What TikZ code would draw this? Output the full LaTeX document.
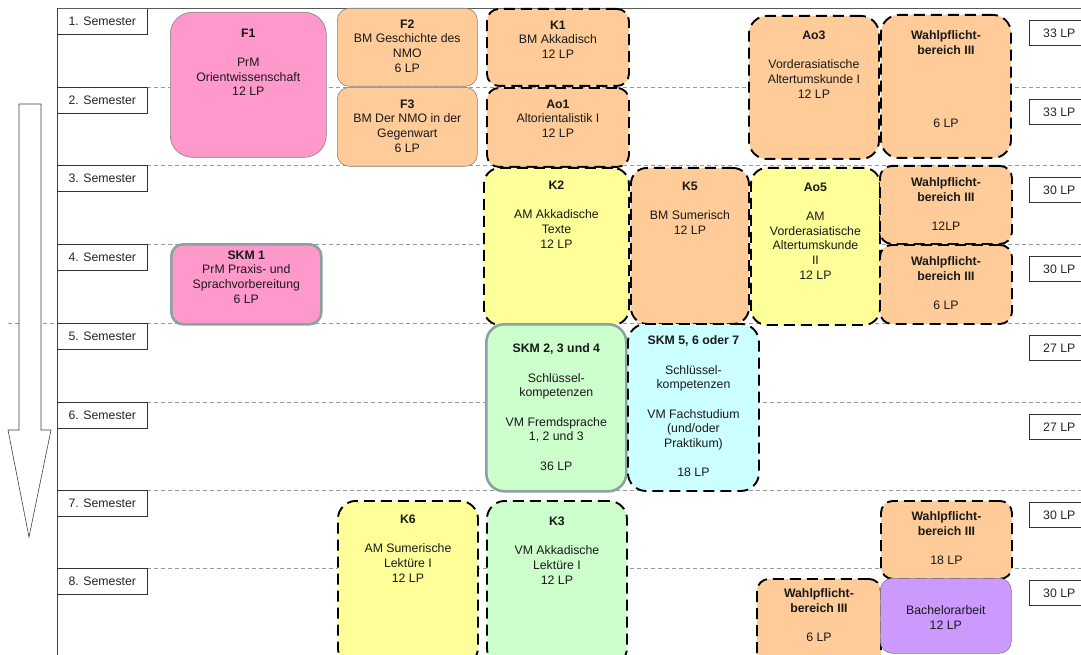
\documentclass[tikz,border=0pt]{standalone}
\usepackage{fontspec}
\setmainfont{Liberation Sans}
\usetikzlibrary{positioning}
\definecolor{pinkmod}{RGB}{255,153,204}
\definecolor{orangemod}{RGB}{255,204,153}
\definecolor{yellowmod}{RGB}{255,255,153}
\definecolor{greenmod}{RGB}{204,255,204}
\definecolor{cyanmod}{RGB}{204,255,255}
\definecolor{purplemod}{RGB}{204,153,255}
\definecolor{skmrand}{RGB}{138,162,162}
\tikzset{
  modul/.style={draw=gray,line width=0.6pt,rounded corners=12pt,anchor=north west,inner sep=0pt},
  wpf/.style={modul,draw=black,line width=1.9pt,dash pattern=on 11pt off 6pt},
  skm/.style={modul,draw=skmrand,line width=2.6pt},
  txt/.style={inner sep=0pt,align=center,text=black!90},
  sem/.style={draw=black!80,fill=white,line width=0.6pt,minimum width=90pt,minimum height=26pt,anchor=north west,inner sep=0pt,text=black!85},
  lpbox/.style={sem,minimum width=60pt,minimum height=25pt},
  rowline/.style={gray!80,line width=0.6pt,dash pattern=on 4pt off 3pt}
}
\begin{document}
\begin{tikzpicture}[x=1pt,y=-1pt,font=\fontsize{12.3}{14.7}\selectfont]
\useasboundingbox (0,0) rectangle (1081,655);
\clip (0,0) rectangle (1081,655);
% Semesterraster
\foreach \r/\yy/\lp in {1/8/33,2/87/33,3/165/30,4/244/30,5/323/27,6/402/27,7/490/30,8/568/30}{
  \draw[rowline] (147,\yy) -- (1081,\yy);
  \node[sem] (sem\r) at (57,\yy) {\r. Semester};
  \node[lpbox] (lp\r) at (1029,\yy+12) {\lp\ LP};
}
\draw[rowline] (8,323) -- (sem5.north west);
\draw[gray!70!black,line width=0.7pt] (sem1.north west) -- (1081,8);
\draw[black!75,line width=0.7pt] (sem1.north west) -- (57,655);
% Pfeil
\draw[black!75,line width=0.6pt,fill=white] (19,104) -- (41,104) -- (41,430) -- (51,430) -- (29,537) -- (8,430) -- (19,430) -- cycle;
% Module
\node[modul,fill=pinkmod,rounded corners=22pt,minimum width=156pt,minimum height=145pt] (f1) at (170,12) {};
\node[txt,below=16.5pt of f1.north] (f1txt) {\textbf{F1}\\[14.7pt]PrM\\Orientwissenschaft\\12 LP};
\node[modul,fill=orangemod,minimum width=140pt,minimum height=78pt] (f2) at (337,8) {};
\node[txt,below=11.5pt of f2.north] (f2txt) {\textbf{F2}\\BM Geschichte des\\NMO\\6 LP};
\node[modul,fill=orangemod,minimum width=140pt,minimum height=79pt] (f3) at (337,87) {};
\node[txt,below=12.5pt of f3.north] (f3txt) {\textbf{F3}\\BM Der NMO in der\\Gegenwart\\6 LP};
\node[wpf,fill=orangemod,minimum width=142pt,minimum height=77pt] (k1) at (486,8) {};
\node[txt,below=12.5pt of k1.north] (k1txt) {\textbf{K1}\\BM Akkadisch\\12 LP};
\node[wpf,fill=orangemod,minimum width=142pt,minimum height=79pt] (ao1) at (486,87) {};
\node[txt,below=12.5pt of ao1.north] (ao1txt) {\textbf{Ao1}\\Altorientalistik I\\12 LP};
\node[wpf,fill=orangemod,rounded corners=18pt,minimum width=130pt,minimum height=143pt] (ao3) at (748,15) {};
\node[txt,below=15.5pt of ao3.north] (ao3txt) {\textbf{Ao3}\\[14.7pt]Vorderasiatische\\Altertumskunde I\\12 LP};
\node[wpf,fill=orangemod,rounded corners=18pt,minimum width=130pt,minimum height=143pt] (wpf1) at (880,14) {};
\node[txt,below=16.5pt of wpf1.north] (wpf1txt) {\textbf{Wahlpflicht-}\\\textbf{bereich III}\\[58.8pt]6 LP};
\node[wpf,fill=yellowmod,rounded corners=16pt,minimum width=145pt,minimum height=157pt] (k2) at (483,167) {};
\node[txt,below=13.5pt of k2.north] (k2txt) {\textbf{K2}\\[14.7pt]AM Akkadische\\Texte\\12 LP};
\node[wpf,fill=orangemod,rounded corners=16pt,minimum width=118pt,minimum height=156pt] (k5) at (630,167) {};
\node[txt,below=14.5pt of k5.north] (k5txt) {\textbf{K5}\\[14.7pt]BM Sumerisch\\12 LP};
\node[wpf,fill=yellowmod,rounded corners=16pt,minimum width=129pt,minimum height=157pt] (ao5) at (750,167) {};
\node[txt,below=15.5pt of ao5.north] (ao5txt) {\textbf{Ao5}\\[14.7pt]AM\\Vorderasiatische\\Altertumskunde\\II\\12 LP};
\node[wpf,fill=orangemod,minimum width=132pt,minimum height=78pt] (wpf2) at (879,165) {};
\node[txt,below=12.5pt of wpf2.north] (wpf2txt) {\textbf{Wahlpflicht-}\\\textbf{bereich III}\\[14.7pt]12LP};
\node[wpf,fill=orangemod,minimum width=132pt,minimum height=79pt] (wpf3) at (879,244) {};
\node[txt,below=12.5pt of wpf3.north] (wpf3txt) {\textbf{Wahlpflicht-}\\\textbf{bereich III}\\[14.7pt]6 LP};
\node[skm,fill=pinkmod,minimum width=150pt,minimum height=80pt] (skm1) at (170,243) {};
\node[txt,below=7.5pt of skm1.north] (skm1txt) {\textbf{SKM 1}\\PrM Praxis- und\\Sprachvorbereitung\\6 LP};
\node[skm,fill=greenmod,rounded corners=18pt,minimum width=140pt,minimum height=167pt] (skm2) at (485,323) {};
\node[txt,below=20.5pt of skm2.north] (skm2txt) {\textbf{SKM 2, 3 und 4}\\[14.7pt]Schlüssel-\\kompetenzen\\[14.7pt]VM Fremdsprache\\1, 2 und 3\\[14.7pt]36 LP};
\node[wpf,fill=cyanmod,rounded corners=18pt,minimum width=131pt,minimum height=167pt] (skm5) at (627,323) {};
\node[txt,below=12.5pt of skm5.north] (skm5txt) {\textbf{SKM 5, 6 oder 7}\\[14.7pt]Schlüssel-\\kompetenzen\\[14.7pt]VM Fachstudium\\(und/oder\\Praktikum)\\[14.7pt]18 LP};
\node[wpf,fill=yellowmod,rounded corners=18pt,minimum width=140pt,minimum height=165pt] (k6) at (337,500) {};
\node[txt,below=14.5pt of k6.north] (k6txt) {\textbf{K6}\\[14.7pt]AM Sumerische\\Lektüre I\\12 LP};
\node[wpf,fill=greenmod,rounded corners=18pt,minimum width=140pt,minimum height=165pt] (k3) at (486,500) {};
\node[txt,below=16.5pt of k3.north] (k3txt) {\textbf{K3}\\[14.7pt]VM Akkadische\\Lektüre I\\12 LP};
\node[wpf,fill=orangemod,minimum width=131pt,minimum height=78pt] (wpf4) at (880,500) {};
\node[txt,below=11.5pt of wpf4.north] (wpf4txt) {\textbf{Wahlpflicht-}\\\textbf{bereich III}\\[14.7pt]18 LP};
\node[wpf,fill=orangemod,minimum width=124pt,minimum height=87pt] (wpf5) at (756,578) {};
\node[txt,below=10.5pt of wpf5.north] (wpf5txt) {\textbf{Wahlpflicht-}\\\textbf{bereich III}\\[14.7pt]6 LP};
\node[modul,fill=purplemod,minimum width=131pt,minimum height=75pt] (ba) at (880,578) {};
\node[txt,below=27.5pt of ba.north] (batxt) {Bachelorarbeit\\12 LP};
\end{tikzpicture}
\end{document}
